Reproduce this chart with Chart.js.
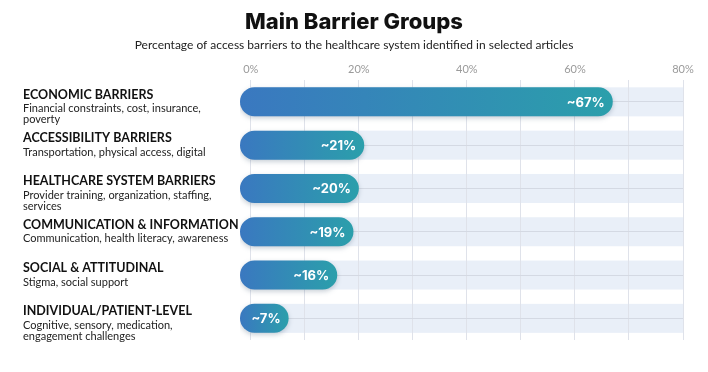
<!DOCTYPE html>
<html>
<head>
<meta charset="utf-8">
<script src="https://cdn.jsdelivr.net/npm/chart.js@4.4.1/dist/chart.umd.min.js"></script>
<style>
  html, body { margin: 0; padding: 0; background: #ffffff; }
  #wrap { width: 708px; height: 372px; }
</style>
</head>
<body>
<div id="wrap"><canvas id="barrierChart" width="708" height="372"></canvas></div>
<script>
// Data
const categories = ['ECONOMIC BARRIERS', 'ACCESSIBILITY BARRIERS', 'HEALTHCARE SYSTEM BARRIERS', 'COMMUNICATION & INFORMATION', 'SOCIAL & ATTITUDINAL', 'INDIVIDUAL/PATIENT-LEVEL'];
const details = [
  ['Financial constraints, cost, insurance,', 'poverty'],
  ['Transportation, physical access, digital'],
  ['Provider training, organization, staffing,', 'services'],
  ['Communication, health literacy, awareness'],
  ['Stigma, social support'],
  ['Cognitive, sensory, medication,', 'engagement challenges']
];
const shares = [67, 21, 20, 19, 16, 7];
const tickValues = [0, 20, 40, 60, 80];
const axisMax = 80;

const chartTitle = 'Main Barrier Groups';
const chartSubtitle = 'Percentage of access barriers to the healthcare system identified in selected articles';

const headFont = 'Inter, "Open Sans", sans-serif';
const bodyFont = 'Lato, "Open Sans", sans-serif';

// light blue track behind each row (drawn before grid so lines sit on top)
const trackPlugin = {
  id: 'tracks',
  beforeDraw(chart) {
    const ctx = chart.ctx;
    const x = chart.scales.x;
    const meta = chart.getDatasetMeta(0);
    ctx.save();
    ctx.fillStyle = '#e9eff8';
    meta.data.forEach(bar => {
      const h = bar.height;
      ctx.fillRect(x.getPixelForValue(0), bar.y - h / 2, x.getPixelForValue(axisMax) - x.getPixelForValue(0), h);
    });
    ctx.restore();
  }
};

// soft shadow under the bars
const shadowPlugin = {
  id: 'barShadow',
  beforeDatasetDraw(chart) {
    chart.ctx.save();
    chart.ctx.shadowColor = 'rgba(30, 60, 90, 0.25)';
    chart.ctx.shadowBlur = 5;
    chart.ctx.shadowOffsetY = 2;
  },
  afterDatasetDraw(chart) {
    chart.ctx.restore();
  }
};

// title, category names on the left and value labels inside bars
const labelPlugin = {
  id: 'labels',
  afterDatasetsDraw(chart) {
    const ctx = chart.ctx;
    const yScale = chart.scales.y;
    const meta = chart.getDatasetMeta(0);
    const mid = chart.width / 2;
    ctx.save();
    ctx.textAlign = 'center';
    ctx.textBaseline = 'alphabetic';
    ctx.fillStyle = '#111111';
    ctx.font = '800 22px ' + headFont;
    ctx.fillText(chartTitle, mid, 29);
    ctx.fillStyle = '#222222';
    ctx.font = '12px ' + bodyFont;
    ctx.fillText(chartSubtitle, mid, 49);

    categories.forEach((name, i) => {
      const y = yScale.getPixelForValue(i);
      ctx.textAlign = 'left';
      ctx.textBaseline = 'middle';
      ctx.fillStyle = '#111111';
      ctx.font = 'bold 12.5px ' + bodyFont;
      ctx.fillText(name, 23, y - 7);
      ctx.fillStyle = '#222222';
      ctx.font = '11px ' + bodyFont;
      details[i].forEach((line, k) => {
        ctx.fillText(line, 23, y + 7 + k * 11);
      });
    });
    meta.data.forEach((bar, i) => {
      ctx.textAlign = 'right';
      ctx.textBaseline = 'middle';
      ctx.fillStyle = '#ffffff';
      ctx.font = 'bold 13px ' + headFont;
      ctx.fillText('~' + shares[i] + '%', bar.x - 8, bar.y + 1);
    });
    ctx.restore();
  }
};

function barGradient(context) {
  const chart = context.chart;
  const area = chart.chartArea;
  if (!area || context.type !== 'data') return '#3386b6';
  const x = chart.scales.x;
  const start = x.getPixelForValue(-2);
  const end = x.getPixelForValue(context.raw);
  const g = chart.ctx.createLinearGradient(start, 0, end, 0);
  g.addColorStop(0, '#3a78c0');
  g.addColorStop(1, '#2b9fab');
  return g;
}

const ctx = document.getElementById('barrierChart').getContext('2d');
const barrierChart = new Chart(ctx, {
  type: 'bar',
  data: {
    labels: categories,
    datasets: [{
      label: 'Share of barriers',
      data: shares,
      base: -2,
      backgroundColor: barGradient,
      borderRadius: 20,
      borderSkipped: false,
      barPercentage: 0.67,
      categoryPercentage: 1
    }]
  },
  plugins: [trackPlugin, shadowPlugin, labelPlugin],
  options: {
    indexAxis: 'y',
    responsive: false,
    animation: false,
    layout: { padding: { left: 240, right: 25, top: 59, bottom: 32 } },
    scales: {
      x: {
        position: 'top',
        min: -2,
        max: axisMax,
        afterBuildTicks(axis) {
          const ticks = [];
          for (let v = 0; v <= axisMax; v += 10) ticks.push({ value: v });
          axis.ticks = ticks;
        },
        border: { display: false },
        grid: { color: '#dfe2ea', lineWidth: 1, drawTicks: false },
        ticks: {
          padding: 4,
          color: '#9a9a9a',
          font: { family: bodyFont, size: 11 },
          callback: v => (tickValues.includes(v) ? v + '%' : '')
        }
      },
      y: {
        border: { display: false },
        grid: { offset: false, color: '#d4d9e3', drawTicks: false },
        ticks: { display: false }
      }
    },
    plugins: {
      legend: { display: false },
      tooltip: { enabled: false }
    }
  }
});
</script>
</body>
</html>
